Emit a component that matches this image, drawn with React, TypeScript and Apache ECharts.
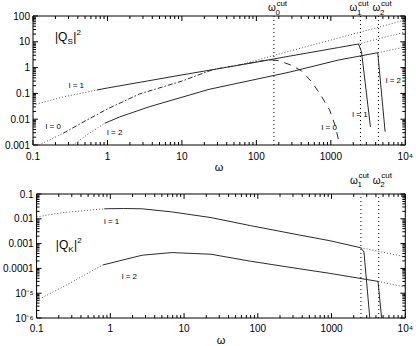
import React, { useEffect, useRef } from "react";
import * as echarts from "echarts";

const FONT = "'Liberation Sans', Arial, Helvetica, sans-serif";

// ---- tick labels ----
const xTickExponents = [-1, 0, 1, 2, 3, 4];
const xTickLabels = ["0.1", "1", "10", "100", "1000", "10⁴"];
const topYTickExponents = [-3, -2, -1, 0, 1, 2];
const topYTickLabels = ["0.001", "0.01", "0.1", "1", "10", "100"];
const botYTickExponents = [-6, -5, -4, -3, -2, -1];
const botYTickLabels = ["10⁻⁶", "10⁻⁵", "0.0001", "0.001", "0.01", "0.1"];
// minor log ticks sit at m·10^k
const minorMultipliers = [2, 3, 4, 5, 6, 7, 8, 9];

// ---- cut-off frequencies ----
const cutOmega = [172, 2500, 4365];
const cutIndex = ["0", "1", "2"];

// ---- top panel |Q_S|^2 : [omega, value] ----
const topL0Low = [[0.12, 0.001], [0.254, 0.00284]];
const topL0Rise = [[0.254, 0.00284], [0.5, 0.0085], [1, 0.025], [2.69, 0.095], [10, 0.3], [23.2, 0.74], [28.8, 0.88], [68.2, 1.37], [126, 1.88], [160, 2.0]];
const topL0Fall = [[160, 2.0], [200, 1.85], [290, 1.26], [407, 0.738], [554, 0.277], [731, 0.0866], [964, 0.0227], [1159, 0.005], [1312, 0.001]];
const topL0Ext = [[68.2, 1.4], [148, 2.64], [10000, 70]];

const topL1Low = [[0.1, 0.0355], [0.252, 0.0724], [0.718, 0.135]];
const topL1Main = [[0.718, 0.135], [1, 0.162], [10, 0.52], [79.6, 1.45], [273, 2.75], [1270, 6.0], [2355, 8.22], [2582, 4.13], [3404, 0.005]];
const topL1Ext = [[2355, 8.22], [10000, 24]];

const topL2Low = [[0.343, 0.001], [0.578, 0.00292], [0.918, 0.00693]];
const topL2Main = [[0.918, 0.00693], [1.456, 0.0122], [3.66, 0.0305], [23.2, 0.144], [273, 0.658], [1270, 1.97], [4266, 3.78], [5358, 0.00328]];
const topL2Ext = [[4266, 3.78], [10000, 6.28]];

// ---- bottom panel |Q_K|^2 ----
const botL1Low = [[0.1, 0.0119], [0.23, 0.0179], [0.829, 0.0253]];
const botL1Main = [[0.829, 0.0253], [1.5, 0.026], [2.69, 0.0253], [6.8, 0.019], [23.2, 0.0112], [79.6, 0.0053], [371, 0.0022], [935, 0.00132], [2477, 6.84e-4], [2750, 4.62e-4], [3302, 1e-6]];
const botL1Ext = [[2477, 6.84e-4], [10000, 2.94e-4]];

const botL2Low = [[0.1, 5.1e-6], [0.23, 1.82e-5], [0.788, 1.37e-4]];
const botL2Main = [[0.788, 1.37e-4], [2.69, 3.4e-4], [6.8, 4.35e-4], [23.2, 3.72e-4], [79.6, 1.95e-4], [371, 9.6e-5], [935, 6.36e-5], [4266, 2.99e-5], [4776, 1e-6]];
const botL2Ext = [[4266, 2.99e-5], [10000, 1.77e-5]];

// ---- curve labels ----
const topCurveLabels = [
  { text: "l = 1", omega: 0.382, value: 0.194 },
  { text: "l = 0", omega: 0.187, value: 0.0051 },
  { text: "l = 2", omega: 1.25, value: 0.003 },
  { text: "l = 2", omega: 6918, value: 0.33 },
  { text: "l = 1", omega: 2466, value: 0.0159 },
  { text: "l = 0", omega: 950, value: 0.00456 },
];
const botCurveLabels = [
  { text: "l = 1", omega: 1.04, value: 0.0081 },
  { text: "l = 2", omega: 1.81, value: 4.8e-5 },
];
const qLabels = [
  { sub: "S", omega: 0.197, value: 14.7 },
  { sub: "K", omega: 0.182, value: 8.57e-4 },
];

const SOLID = "#2a2a2a";
const DOT = "#555";
const X_MIN = 0.1;
const X_MAX = 10000;
const GRIDS = [
  { left: 33, top: 16, width: 374, height: 129 },
  { left: 33, top: 194, width: 374, height: 127 },
];
const panels = [
  { yMin: 0.001, yMax: 100, yExps: topYTickExponents, yLabels: topYTickLabels },
  { yMin: 1e-6, yMax: 0.1, yExps: botYTickExponents, yLabels: botYTickLabels },
];
const MAJOR_LEN = 5;
const MINOR_LEN = 3;

function labelFor(exps: number[], labels: string[]) {
  return (v: number) => {
    const e = Math.round(Math.log10(v));
    const i = exps.indexOf(e);
    return i >= 0 ? labels[i] : "";
  };
}

function logTicks(exps: number[]) {
  const out: number[][] = [];
  exps.forEach((e, i) => {
    const base = Math.pow(10, e);
    out.push([base, MAJOR_LEN]);
    if (i < exps.length - 1) minorMultipliers.forEach((m) => out.push([m * base, MINOR_LEN]));
  });
  return out;
}

function lineSeries(g: number, data: any[], color: string, type: any) {
  return {
    type: "line",
    xAxisIndex: g,
    yAxisIndex: g,
    data,
    symbol: "none",
    showSymbol: false,
    silent: true,
    lineStyle: { color, width: 1, type },
  };
}

function cutLineSeries(g: number, omegas: number[]) {
  const pn = panels[g];
  return omegas.map((w) => lineSeries(g, [[w, pn.yMin], [w, pn.yMax]], "#000", [1, 3]));
}

// each tick is a two-point segment; its length is converted from pixels to data units
function tickSeriesFor(g: number) {
  const pn = panels[g];
  const gr = GRIDS[g];
  const pxDecX = gr.width / Math.log10(X_MAX / X_MIN);
  const pxDecY = gr.height / Math.log10(pn.yMax / pn.yMin);
  const out: any[] = [];
  const seg = (a: number[], b: number[]) =>
    out.push({ ...lineSeries(g, [a, b], "#000", "solid"), clip: false, z: 3 });
  logTicks(xTickExponents).forEach(([v, len]) => {
    const f = Math.pow(10, len / pxDecY);
    seg([v, pn.yMin], [v, pn.yMin * f]);
    seg([v, pn.yMax], [v, pn.yMax / f]);
  });
  logTicks(pn.yExps).forEach(([v, len]) => {
    const f = Math.pow(10, len / pxDecX);
    seg([X_MIN, v], [X_MIN * f, v]);
    seg([X_MAX, v], [X_MAX / f, v]);
  });
  return out;
}

function txt(text: string, x: number, y: number, size: number, align: string) {
  return {
    type: "text",
    x,
    y,
    style: { text, fontSize: size, fontFamily: FONT, fill: "#000", align, verticalAlign: "middle" },
  };
}

function customBase(g: number) {
  return { type: "custom", xAxisIndex: g, yAxisIndex: g, silent: true, clip: false };
}

function cutLabelSeries(g: number, idxs: number[], dy: number, shifts: number[]) {
  const yMax = panels[g].yMax;
  return {
    ...customBase(g),
    data: idxs.map((i) => [cutOmega[i], yMax]),
    renderItem: (params: any, api: any) => {
      const k = params.dataIndex;
      const p = api.coord([api.value(0), api.value(1)]);
      const cx = p[0] + shifts[k];
      const cy = p[1] + dy;
      return {
        type: "group",
        children: [
          txt("ω", cx, cy, 10, "center"),
          txt(cutIndex[idxs[k]], cx + 3.5, cy + 4.5, 8, "left"),
          txt("cut", cx + 4.5, cy - 4.5, 8, "left"),
        ],
      };
    },
  };
}

function curveLabelSeries(g: number, labels: { text: string; omega: number; value: number }[]) {
  return {
    ...customBase(g),
    data: labels.map((l) => [l.omega, l.value]),
    renderItem: (params: any, api: any) => {
      const p = api.coord([api.value(0), api.value(1)]);
      return txt(labels[params.dataIndex].text, p[0], p[1], 8, "center");
    },
  };
}

function qLabelSeries(g: number, lab: { sub: string; omega: number; value: number }) {
  return {
    ...customBase(g),
    data: [[lab.omega, lab.value]],
    renderItem: (params: any, api: any) => {
      const p = api.coord([api.value(0), api.value(1)]);
      return {
        type: "group",
        children: [
          txt("|Q", p[0], p[1], 12, "left"),
          txt(lab.sub, p[0] + 12.6, p[1] + 4.5, 8, "left"),
          txt("|", p[0] + 18.2, p[1], 12, "left"),
          txt("2", p[0] + 21.6, p[1] - 4.5, 8, "left"),
        ],
      };
    },
  };
}

function xAxisFor(g: number) {
  return {
    gridIndex: g,
    type: "log",
    logBase: 10,
    min: X_MIN,
    max: X_MAX,
    axisLine: { show: false },
    axisTick: { show: false },
    splitLine: { show: false },
    axisLabel: {
      formatter: labelFor(xTickExponents, xTickLabels),
      margin: g === 0 ? 6 : 5,
      fontSize: 10,
      color: "#000",
      fontFamily: FONT,
    },
    name: "ω",
    nameLocation: "middle",
    nameGap: 16,
    nameTextStyle: { fontSize: 11, color: "#000", fontFamily: FONT },
  };
}

function yAxisFor(g: number) {
  const pn = panels[g];
  return {
    gridIndex: g,
    type: "log",
    logBase: 10,
    min: pn.yMin,
    max: pn.yMax,
    axisLine: { show: false },
    axisTick: { show: false },
    splitLine: { show: false },
    axisLabel: {
      formatter: labelFor(pn.yExps, pn.yLabels),
      margin: 3,
      fontSize: 10,
      color: "#000",
      fontFamily: FONT,
    },
  };
}

export default function App() {
  const ref = useRef<HTMLDivElement>(null);
  useEffect(() => {
    if (!ref.current) return;
    const chart = echarts.init(ref.current, null, { renderer: "svg" });
    const series: any[] = [
      ...cutLineSeries(0, cutOmega),
      ...cutLineSeries(1, cutOmega.slice(1)),
      cutLabelSeries(0, [0, 1, 2], -8.5, [-2, -7, -2]),
      cutLabelSeries(1, [1, 2], -14, [-7, -2]),
      // top panel
      lineSeries(0, topL0Low, DOT, [1, 2]),
      lineSeries(0, topL0Rise, SOLID, [5, 2, 1.5, 2]),
      lineSeries(0, topL0Fall, SOLID, [7, 6]),
      lineSeries(0, topL0Ext, DOT, [1, 2]),
      lineSeries(0, topL1Low, DOT, [1, 2]),
      lineSeries(0, topL1Main, SOLID, "solid"),
      lineSeries(0, topL1Ext, DOT, [1, 2]),
      lineSeries(0, topL2Low, DOT, [1, 2]),
      lineSeries(0, topL2Main, SOLID, "solid"),
      lineSeries(0, topL2Ext, DOT, [1, 2]),
      // bottom panel
      lineSeries(1, botL1Low, DOT, [1, 2]),
      lineSeries(1, botL1Main, SOLID, "solid"),
      lineSeries(1, botL1Ext, DOT, [1, 2]),
      lineSeries(1, botL2Low, DOT, [1, 2]),
      lineSeries(1, botL2Main, SOLID, "solid"),
      lineSeries(1, botL2Ext, DOT, [1, 2]),
      curveLabelSeries(0, topCurveLabels),
      curveLabelSeries(1, botCurveLabels),
      qLabelSeries(0, qLabels[0]),
      qLabelSeries(1, qLabels[1]),
      ...tickSeriesFor(0),
      ...tickSeriesFor(1),
    ];
    const option: any = {
      animation: false,
      textStyle: { fontFamily: FONT },
      grid: GRIDS.map((gr) => ({ ...gr, show: true, borderColor: "#000", borderWidth: 1 })),
      xAxis: [xAxisFor(0), xAxisFor(1)],
      yAxis: [yAxisFor(0), yAxisFor(1)],
      series,
    };
    chart.setOption(option);
    return () => chart.dispose();
  }, []);
  return (
    <div
      ref={ref}
      style={{ position: "fixed", left: 0, top: 0, width: 416, height: 346, background: "#fff" }}
    />
  );
}
